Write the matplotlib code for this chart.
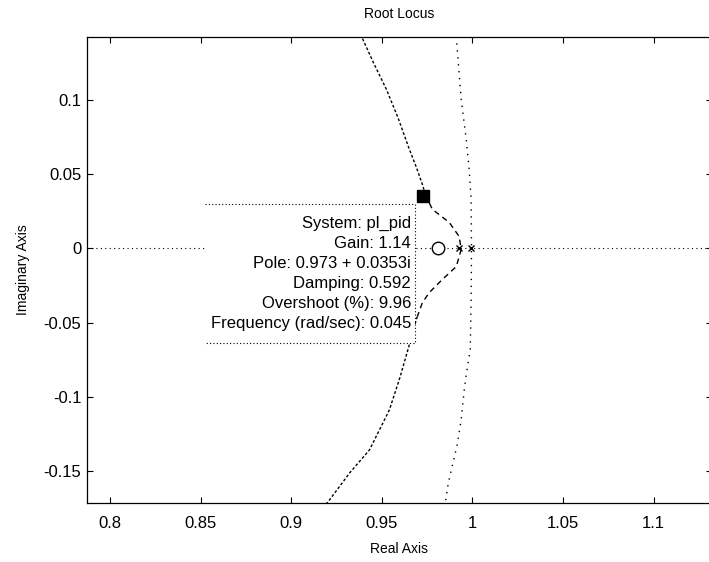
import matplotlib.pyplot as plt
import numpy as np

plt.rcParams['font.family'] = ['Liberation Sans', 'DejaVu Sans']

# upper branch (going up from the selected pole)
upper_re = [0.9740, 0.9724, 0.9690, 0.9652, 0.9590, 0.9525, 0.9455, 0.9388]
upper_im = [0.0365, 0.0432, 0.0550, 0.0669, 0.0880, 0.1074, 0.1250, 0.1430]

# branch segment around the real axis
mid_re = [0.9740, 0.9779, 0.9872, 0.9927, 0.9938, 0.9911, 0.9834, 0.9762, 0.9724, 0.9696]
mid_im = [0.0365, 0.0264, 0.0176, 0.0081, -0.0007, -0.0122, -0.0209, -0.0297, -0.0365, -0.0459]

# lower branch
lower_re = [0.9696, 0.9674, 0.9652, 0.9600, 0.9542, 0.9432, 0.9322, 0.9211, 0.9195]
lower_im = [-0.0459, -0.0547, -0.0649, -0.0870, -0.1088, -0.1358, -0.1514, -0.1696, -0.1720]

# branch near the unit circle
right_re = [0.9911, 0.9938, 0.9966, 0.9982, 0.9993, 0.9995, 0.9993, 0.9988,
            0.9966, 0.9955, 0.9938, 0.9916, 0.9867, 0.9850]
right_im = [0.1430, 0.1007, 0.0736, 0.0534, 0.0331, 0.0, -0.0345, -0.0682,
            -0.0851, -0.0953, -0.1155, -0.1324, -0.1581, -0.1720]

zeros_re = [0.9811]
poles_re = [0.9927, 0.9993]
sel_re, sel_im = 0.973, 0.0353

tip_lines = ['System: pl_pid', 'Gain: 1.14', 'Pole: 0.973 + 0.0353i',
             'Damping: 0.592', 'Overshoot (%): 9.96', 'Frequency (rad/sec): 0.045']

fig = plt.figure(figsize=(7.09, 5.62), dpi=100)
W, H = 709, 562
ax = fig.add_axes([87 / W, (H - 503) / H, 625 / W, 466 / H])

x0 = 0.8 - 23 / 90.6 * 0.05
ax.set_xlim(x0, x0 + 625 / 90.6 * 0.05)
ax.set_ylim(-0.1716, 0.1426)

# real axis
ax.axhline(0, color='black', lw=0.8, linestyle=(0, (1, 3)), zorder=1)

ax.plot(upper_re, upper_im, color='black', lw=1, linestyle=(0, (2, 1.5)))
ax.plot(lower_re, lower_im, color='black', lw=1, linestyle=(0, (2, 1.5)))
ax.plot(mid_re, mid_im, color='black', lw=1, linestyle=(0, (4, 3)))
ax.plot(right_re, right_im, color='black', lw=1, linestyle=(0, (1, 4)))

ax.plot(zeros_re, [0] * len(zeros_re), 'o', mfc='white', mec='black', ms=9, mew=1)
ax.plot(poles_re, [0] * len(poles_re), 'x', color='black', ms=5, mew=1)
ax.plot(sel_re, sel_im, 's', color='black', ms=8, zorder=6)

# data tip box
bx0, bx1 = (205 - 87) / 625, (415 - 87) / 625
by0, by1 = (503 - 343) / 466, (503 - 204) / 466
ax.add_patch(plt.Rectangle((bx0, by0), bx1 - bx0, by1 - by0, transform=ax.transAxes,
                           facecolor='white', edgecolor='none', zorder=4))
ax.plot([bx0, bx1, bx1, bx0], [by1, by1, by0, by0], transform=ax.transAxes,
        color='black', lw=0.8, linestyle=(0, (1, 2)), zorder=5)
ax.text((411 - 87) / 625, (503 - 273.5) / 466, '\n'.join(tip_lines),
        transform=ax.transAxes, ha='right', va='center', fontsize=12,
        linespacing=1.41, zorder=6)

ax.set_xticks([0.8, 0.85, 0.9, 0.95, 1.0, 1.05, 1.1])
ax.set_xticklabels(['0.8', '0.85', '0.9', '0.95', '1', '1.05', '1.1'])
ax.set_yticks([0.1, 0.05, 0, -0.05, -0.1, -0.15])
ax.set_yticklabels(['0.1', '0.05', '0', '-0.05', '-0.1', '-0.15'])
ax.tick_params(direction='in', length=4, width=0.8, labelsize=12,
               top=True, right=True)
ax.tick_params(axis='x', pad=9)
ax.tick_params(axis='y', pad=4)
for s in ax.spines.values():
    s.set_linewidth(0.9)

ax.set_title('Root Locus', fontsize=10, pad=14)
ax.set_xlabel('Real Axis', fontsize=10, labelpad=8)
ax.set_ylabel('Imaginary Axis', fontsize=10, labelpad=10)

fig.savefig('out.png', dpi=100)
